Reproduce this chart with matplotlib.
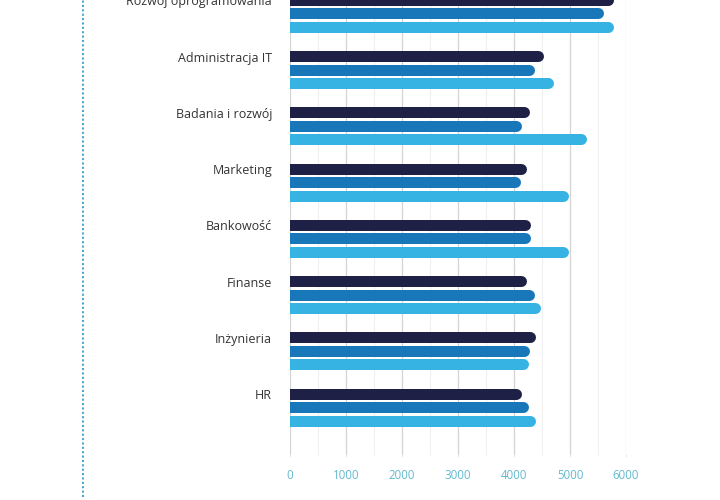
import matplotlib.pyplot as plt
from matplotlib.lines import Line2D
from matplotlib.ticker import MultipleLocator

plt.rcParams['font.family'] = ['Open Sans', 'DejaVu Sans']

# dane
categories = ['Rozwój oprogramowania', 'Administracja IT', 'Badania i rozwój', 'Marketing',
              'Bankowość', 'Finanse', 'Inżynieria', 'HR']
series_dark = [5770, 4520, 4270, 4230, 4300, 4230, 4390, 4140]
series_mid = [5590, 4360, 4130, 4120, 4300, 4360, 4270, 4250]
series_light = [5770, 4710, 5300, 4980, 4980, 4480, 4250, 4390]
xticks = [0, 1000, 2000, 3000, 4000, 5000, 6000]

colors = ['#1e2046', '#1877b9', '#36b2e3']

fig = plt.figure(figsize=(7.2, 5.0), dpi=100)
ax = fig.add_axes([290 / 720, 0.09, 336 / 720, 0.9508])
ax.set_xlim(0, 6000)
ax.set_ylim(7.853, -0.6)

bar_px = 11.0
off = 13.5 / 56.24
# promień zaokrąglenia w jednostkach danych
cap = (bar_px / 2) * 6000 / 336
lw_pt = bar_px * 72 / fig.dpi

for k, (vals, c) in enumerate(zip([series_dark, series_mid, series_light], colors)):
    for i, v in enumerate(vals):
        y = i + (k - 1) * off
        ax.plot([-500, v - cap], [y, y], color=c, lw=lw_pt,
                solid_capstyle='round', zorder=3)

for i, name in enumerate(categories):
    ax.annotate(name, xy=(0, i - off), xytext=(-18, -2), textcoords='offset pixels',
                ha='right', va='center', fontsize=9, color='#333333',
                annotation_clip=False)

ax.set_xticks(xticks)
ax.set_xticklabels([str(t) for t in xticks])
ax.xaxis.set_minor_locator(MultipleLocator(500))
ax.set_yticks([])
ax.grid(axis='x', which='major', color='#d4d4d4', lw=0.9, zorder=0)
ax.grid(axis='x', which='minor', color='#efefef', lw=0.8, zorder=0)
ax.tick_params(axis='x', which='major', length=1, color='#d4d4d4', labelcolor='#62b9cd',
               labelsize=8.3, pad=9)
ax.tick_params(axis='x', which='minor', length=1, color='#efefef')
for s in ax.spines.values():
    s.set_visible(False)

# kropkowana linia z lewej
fig.add_artist(Line2D([83 / 720, 83 / 720], [0.006, 1.0], transform=fig.transFigure,
                      color='#4aa9d2', lw=1.5, linestyle=(0, (1, 1.1))))

fig.savefig('out.png', dpi=100)
